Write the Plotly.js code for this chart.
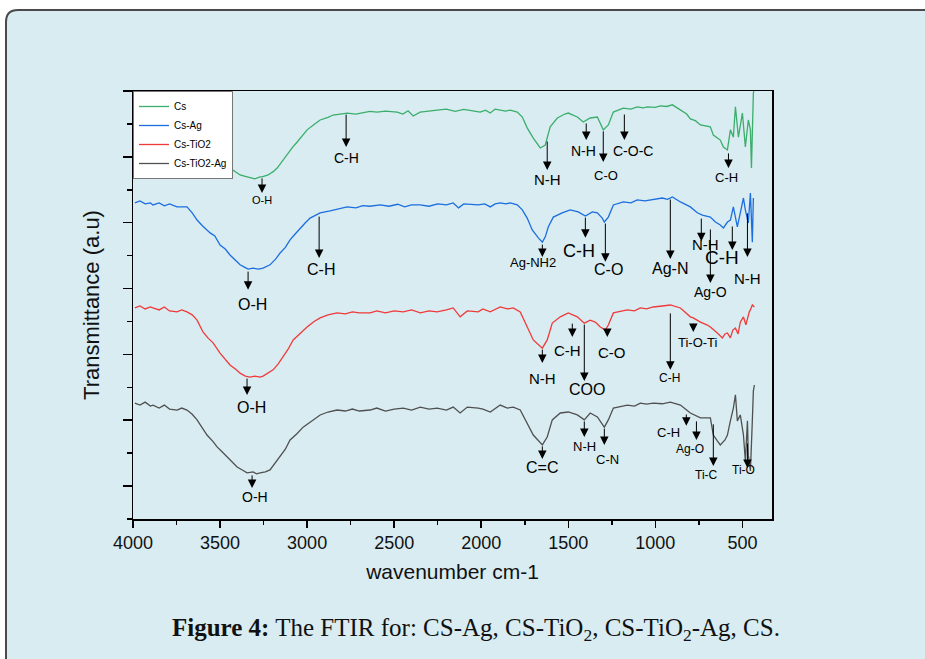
<!DOCTYPE html>
<html>
<head>
<meta charset="utf-8">
<script src="https://cdn.plot.ly/plotly-3.0.1.min.js"></script>
<style>html,body{margin:0;padding:0;background:#fff;}#chart{width:925px;height:659px;}</style>
</head>
<body>
<div id="chart"></div>
<script>
// ---------- DATA ----------
const seriesNames = ['Cs', 'Cs-Ag', 'Cs-TiO2', 'Cs-TiO2-Ag'];

const csW = [3990,3950,3900,3850,3800,3750,3700,3660,3620,3580,3529,3500,3460,3443,3420,3385,3350,3328,3300,3270,3259,3224,3195,3172,3140,3115,3085,3057,3030,3000,2960,2925,2880,2851,2810,2770,2720,2678,2640,2598,2550,2483,2450,2420,2391,2351,2300,2253,2200,2150,2100,2050,2006,1975,1948,1920,1891,1860,1833,1793,1764,1736,1701,1661,1632,1604,1563,1520,1500,1448,1414,1374,1333,1316,1299,1270,1241,1184,1140,1104,1070,1046,1000,971,935,902,856,820,799,770,741,710,684,667,627,609,586,569,552,540,523,500,483,466,454,448,437,431];
const csT = [12.36,12.30,12.36,12.27,12.33,12.24,12.15,11.97,11.70,11.51,11.30,11.00,10.82,10.66,10.58,10.45,10.40,10.36,10.33,10.39,10.39,10.45,10.55,10.66,10.90,11.06,11.28,11.45,11.62,11.82,11.98,12.12,12.20,12.27,12.30,12.33,12.30,12.33,12.38,12.36,12.39,12.36,12.30,12.40,12.24,12.36,12.40,12.42,12.45,12.38,12.44,12.40,12.36,12.42,12.33,12.45,12.42,12.39,12.42,12.36,12.21,11.88,11.57,11.27,11.36,11.91,12.18,12.30,12.33,12.21,12.06,12.18,12.21,12.00,11.82,11.97,12.36,12.48,12.45,12.52,12.49,12.52,12.50,12.55,12.53,12.58,12.42,12.30,12.15,12.10,11.97,11.94,11.91,11.66,11.51,11.30,11.21,11.82,11.60,12.52,11.60,12.33,11.30,12.12,11.82,10.66,12.94,13.09];

const agW = [3989,3960,3930,3900,3885,3850,3820,3790,3747,3720,3690,3660,3632,3600,3557,3530,3500,3470,3443,3410,3385,3360,3339,3310,3280,3253,3213,3180,3155,3125,3098,3070,3040,3010,2983,2950,2925,2868,2820,2770,2720,2680,2640,2580,2530,2480,2440,2400,2351,2300,2250,2200,2161,2130,2100,2050,2017,1980,1948,1920,1891,1860,1833,1793,1764,1736,1707,1672,1649,1632,1615,1586,1535,1489,1443,1402,1362,1333,1305,1293,1270,1241,1184,1140,1104,1060,1029,990,960,930,902,856,799,759,730,684,655,627,609,586,569,552,529,512,494,483,466,454,443,437];
const agT = [9.60,9.66,9.57,9.60,9.54,9.60,9.51,9.57,9.48,9.48,9.48,9.30,9.08,8.90,8.69,8.60,8.32,8.20,8.02,7.85,7.72,7.65,7.59,7.62,7.59,7.62,7.72,7.90,8.08,8.25,8.48,8.65,8.84,9.00,9.14,9.22,9.30,9.36,9.42,9.48,9.45,9.52,9.50,9.54,9.50,9.56,9.48,9.54,9.54,9.50,9.57,9.54,9.60,9.45,9.57,9.54,9.54,9.57,9.48,9.57,9.60,9.57,9.60,9.54,9.39,9.14,8.78,8.54,8.41,8.57,8.87,9.17,9.30,9.39,9.33,9.20,9.33,9.30,9.14,9.02,9.17,9.54,9.63,9.60,9.69,9.66,9.69,9.72,9.75,9.71,9.78,9.63,9.48,9.30,9.23,9.17,9.02,8.93,8.84,9.02,9.08,9.48,8.87,9.30,9.75,9.39,8.99,9.90,8.41,9.75];

const tiW = [3989,3960,3930,3900,3885,3850,3820,3790,3747,3720,3690,3660,3632,3598,3570,3540,3500,3470,3443,3410,3385,3355,3328,3300,3270,3253,3220,3195,3165,3138,3110,3080,3040,3000,2960,2925,2880,2828,2780,2740,2700,2638,2600,2550,2500,2448,2400,2350,2300,2253,2200,2161,2121,2080,2017,1991,1948,1891,1850,1816,1776,1736,1701,1649,1621,1592,1546,1500,1448,1408,1374,1345,1316,1287,1270,1241,1161,1120,1086,1050,1012,960,914,856,799,782,741,701,684,644,615,600,586,569,555,540,525,512,494,480,471,460,454,443,431];
const tiT = [6.41,6.47,6.38,6.44,6.41,6.35,6.44,6.32,6.29,6.35,6.29,6.20,6.04,5.68,5.50,5.35,5.04,4.85,4.68,4.55,4.43,4.34,4.31,4.34,4.31,4.34,4.45,4.53,4.72,4.92,5.15,5.44,5.65,5.83,6.00,6.11,6.20,6.26,6.23,6.29,6.26,6.26,6.32,6.26,6.32,6.29,6.35,6.26,6.32,6.29,6.35,6.41,6.14,6.32,6.29,6.38,6.29,6.44,6.38,6.41,6.29,5.83,5.44,5.19,5.44,5.95,6.14,6.26,6.14,5.95,6.04,5.98,5.83,5.74,5.89,6.26,6.35,6.32,6.41,6.38,6.44,6.47,6.50,6.41,6.14,6.11,5.98,5.89,5.83,5.65,5.50,5.62,5.65,5.50,5.74,5.80,5.62,5.98,6.14,5.90,6.11,6.30,6.35,6.50,6.44];

const tiAgW = [3989,3960,3930,3900,3885,3850,3820,3790,3747,3720,3690,3660,3632,3598,3575,3540,3517,3490,3460,3430,3402,3370,3345,3310,3290,3270,3240,3213,3185,3155,3125,3098,3060,3023,2975,2925,2880,2828,2780,2740,2700,2638,2600,2550,2500,2448,2400,2350,2300,2253,2200,2161,2121,2080,2017,1990,1948,1891,1850,1816,1776,1736,1701,1649,1621,1592,1546,1500,1448,1408,1374,1333,1305,1293,1270,1241,1161,1120,1086,1050,1012,960,914,856,799,741,684,667,644,627,600,586,569,552,540,529,512,494,483,471,466,454,443,437,431];
const tiAgT = [3.52,3.46,3.55,3.43,3.46,3.37,3.46,3.34,3.31,3.37,3.31,3.18,3.01,2.74,2.55,2.35,2.19,2.05,1.88,1.72,1.58,1.48,1.40,1.43,1.37,1.40,1.43,1.49,1.68,1.88,2.12,2.40,2.58,2.79,2.98,3.16,3.25,3.31,3.28,3.34,3.28,3.31,3.37,3.28,3.34,3.37,3.31,3.40,3.34,3.37,3.31,3.40,3.22,3.40,3.37,3.34,3.25,3.46,3.37,3.40,3.31,2.92,2.55,2.25,2.49,3.01,3.22,3.25,3.16,3.01,3.22,3.10,2.86,2.79,3.01,3.37,3.46,3.43,3.52,3.49,3.52,3.50,3.55,3.46,3.22,3.07,3.07,2.55,2.37,2.25,2.40,2.55,2.98,3.37,3.77,2.98,3.16,2.55,1.76,2.98,1.94,1.46,2.98,3.89,4.07];

// ---------- band annotations ----------
const bandLabels = ['O-H','C-H','N-H','N-H','C-O','C-O-C','C-H',
  'O-H','C-H','Ag-NH2','C-H','C-O','Ag-N','N-H','C-H','Ag-O','N-H',
  'O-H','N-H','C-H','COO','C-O','C-H','Ti-O-Ti',
  'O-H','C=C','N-H','C-N','C-H','Ag-O','Ti-C','Ti-O'];
const arrowW    = [3259,2776,1621,1397,1299,1178,580, 3339,2931,1649,1402,1287,914,736,558,684,471, 3345,1649,1477,1408,1276,914,782, 3316,1649,1408,1293,822,764,667,471];
const arrowFrom = [10.39,12.33,11.51,12.06,11.82,12.33,11.15, 7.56,9.23,8.38,9.20,9.02,9.75,9.17,8.93,8.84,9.33, 4.31,5.19,5.98,5.95,5.80,6.29,5.98, 1.37,2.25,3.01,2.79,3.22,3.01,2.92,2.34];
const arrowTo   = [9.90,11.30,10.60,11.51,10.84,11.51,10.66, 6.96,7.93,7.96,8.54,7.81,7.90,8.44,8.17,7.17,7.96, 3.77,4.74,5.53,4.19,5.53,4.53,5.68, 0.94,1.82,2.49,2.25,2.83,2.40,1.61,1.55];
const labelW    = [3259,2776,1621,1414,1282,1127,592, 3316,2920,1701,1437,1270,914,713,615,684,471, 3322,1649,1506,1391,1247,920,753, 3299,1649,1408,1276,925,799,707,494];
const labelT    = [9.69,10.97,10.30,11.18,10.42,11.18,10.36, 6.53,7.59,7.78,8.14,7.59,7.62,8.35,7.93,6.90,7.32, 3.40,4.28,5.13,3.92,5.07,4.28,5.35, 0.67,1.55,2.19,1.82,2.64,2.13,1.34,1.49];
const labelSize = [11,14,15,14,13,14,13, 16,16,13,18,16,16,15,19,14,15, 16,15,15,16,15,12,13, 14,16,13,13,13,12,12,12];

// ---------- styles ----------
const colors = ['#3aae6a', '#1c6ee0', '#f03a3a', '#505050'];
const FONT = 'Arial, "Liberation Sans", sans-serif';

const traces = [[csW,csT],[agW,agT],[tiW,tiT],[tiAgW,tiAgT]].map((d,i)=>({
  type:'scatter', mode:'lines', x:d[0], y:d[1], name:seriesNames[i],
  line:{color:colors[i], width:1.3}
}));

const annotations = [];
for (let i=0;i<bandLabels.length;i++){
  annotations.push({x:arrowW[i], y:arrowTo[i], ax:arrowW[i], ay:arrowFrom[i], xref:'x', yref:'y', axref:'x', ayref:'y',
    text:'', showarrow:true, arrowhead:2, arrowsize:1.7, arrowwidth:1, arrowcolor:'#000'});
  annotations.push({x:labelW[i], y:labelT[i], xref:'x', yref:'y', text:bandLabels[i], showarrow:false,
    xanchor:'center', yanchor:'middle', font:{family:FONT, size:labelSize[i], color:'#000'}});
}
annotations.push({xref:'paper', yref:'paper', x:0.537, y:-0.259, xanchor:'center', yanchor:'middle', showarrow:false,
  text:'<b>Figure 4:</b> The FTIR for: CS-Ag, CS-TiO<sub>2</sub>, CS-TiO<sub>2</sub>-Ag, CS.',
  font:{family:'"Liberation Serif", "DejaVu Serif", serif', size:25, color:'#111'}});

const layout = {
  width:925, height:659,
  margin:{l:133, r:153, t:91, b:140},
  paper_bgcolor:'#ffffff', plot_bgcolor:'rgba(0,0,0,0)',
  font:{family:FONT, color:'#000'},
  showlegend:true,
  legend:{x:0, y:1, xanchor:'left', yanchor:'top', bgcolor:'#ffffff', bordercolor:'#777', borderwidth:1,
    font:{family:FONT, size:10, color:'#000'}, tracegroupgap:0},
  xaxis:{range:[4000,330], showgrid:false, zeroline:false, showline:true, linecolor:'#000', linewidth:1.5, mirror:true,
    ticks:'outside', ticklen:7, tickwidth:1.5, tickcolor:'#000', dtick:500, tick0:0,
    minor:{dtick:250, ticklen:4, tickwidth:1.5, tickcolor:'#000', ticks:'outside'},
    tickfont:{family:FONT, size:18, color:'#111'},
    title:{text:'wavenumber cm-1', font:{family:FONT, size:21, color:'#111'}, standoff:12}},
  yaxis:{range:[0,13], showgrid:false, zeroline:false, showline:true, linecolor:'#000', linewidth:1.5, mirror:true,
    showticklabels:false, ticks:'outside', ticklen:9, tickwidth:1.5, tickcolor:'#000', dtick:2, tick0:1,
    minor:{dtick:1, tick0:0, ticklen:5, tickwidth:1.5, tickcolor:'#000', ticks:'outside'},
    title:{text:'Transmittance (a.u)', font:{family:FONT, size:22, color:'#111'}, standoff:17}},
  shapes:[
    {type:'path', xref:'paper', yref:'paper', layer:'below',
     path:'M -0.19875 -0.4 L -0.19875 1.1612 Q -0.19875 1.1893 -0.18 1.1893 L 1.3 1.1893 L 1.3 -0.4 Z',
     fillcolor:'#d8ecf1', line:{width:0}},
    {type:'path', xref:'paper', yref:'paper', layer:'below',
     path:'M -0.19875 -0.4 L -0.19875 1.1612 Q -0.19875 1.1893 -0.18 1.1893 L 1.3 1.1893',
     fillcolor:'rgba(0,0,0,0)', line:{color:'#4a4a4a', width:2}}
  ],
  annotations:annotations
};

Plotly.newPlot('chart', traces, layout, {staticPlot:true, displayModeBar:false});
</script>
</body>
</html>
